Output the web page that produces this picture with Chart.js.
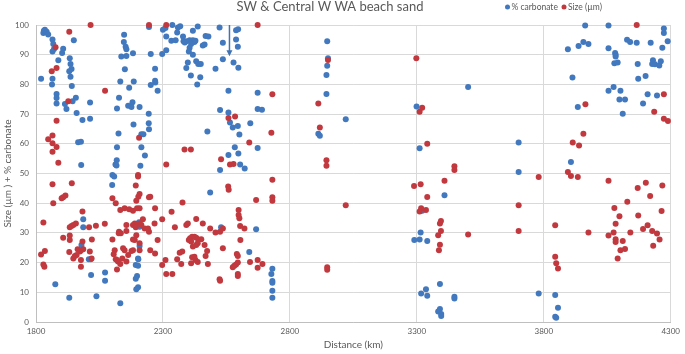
<!DOCTYPE html>
<html><head><meta charset="utf-8">
<script src="https://cdn.jsdelivr.net/npm/chart.js@4"></script>
<style>html,body{margin:0;padding:0;background:#fff}#wrap{width:685px;height:354px}</style>
</head><body><div id="wrap"><canvas id="c" width="685" height="354"></canvas></div>
<script>
const chartTitle = 'SW & Central W WA beach sand';
const seriesNames = ['% carbonate', 'Size (µm)'];
const xAxisTitle = 'Distance (km)';
const yAxisTitle = 'Size (µm ) + % carbonate';
const xTicks = [1800, 2300, 2800, 3300, 3800, 4300];
const yTicks = [0, 10, 20, 30, 40, 50, 60, 70, 80, 90, 100];
// arrow marker (distance, from value, to value)
const arrowMark = [2562, 100, 89.5];

const carbonatePoints = [
[1831,98.1],[1835,98.4],[1829,97.3],[1842,97.7],[1848,96.8],[1865,95.1],[1868,93.6],[1871,91.9],[1865,91.1],[1907,92.0],[1903,90.6],[1949,94.9],[1888,88.1],[1933,88.8],[1936,86.9],[1940,85.2],[1931,84.4],[1936,82.6],[1820,81.9],[1865,81.9],[1863,80.0],[1941,79.5],[1881,76.8],[1881,75.4],[1881,73.6],[1914,73.4],[1920,71.7],[1957,75.5],[1944,74.3],[1960,70.4],[2013,73.9],[1983,68.0],[2013,68.4],[1966,60.5],[1977,60.7],[1978,52.9],
[2147,96.7],[2146,94.3],[2153,92.7],[2156,91.8],[2136,89.4],[2156,89.6],[2182,90.5],[2150,85.1],[2132,81.0],[2185,81.0],[2167,78.9],[2127,75.5],[2180,74.0],[2163,72.8],[2176,72.4],[2208,72.4],[2119,71.9],[2244,70.1],[2184,66.5],[2244,66.9],[2245,64.9],[2125,63.5],[2215,63.2],[2223,63.2],[2215,58.8],[2119,58.8],[2229,56.1],[2118,54.5],[2113,53.0],[2117,52.7],[2211,52.6],
[2245,99.3],[2252,90.2],[2269,85.3],[2269,81.2],[2270,80.6],[2252,79.8],[2279,77.9],[2297,90.2],[2313,91.5],[2300,98.4],[2310,99.0],[2337,100],[2359,99.2],[2368,99.6],[2356,97.5],[2313,96.1],[2333,94.7],[2350,94.9],[2379,96.1],[2381,94.5],[2392,94.5],[2386,94.1],[2405,94.9],[2418,98.1],[2437,99.5],[2418,94.9],[2424,94.3],[2411,93.6],[2405,92.3],[2402,91.1],[2418,90.0],[2428,94.7],[2457,93.1],[2464,93.4],[2468,96.3],[2479,96.1],[2431,87.8],[2439,86.9],[2449,86.9],[2398,87.4],[2392,85.5],[2410,83.0],[2447,82.4],[2435,80.0],[2507,85.3],[2523,99.2],[2536,94.0],[2536,88.5],[2578,87.4],[2597,85.6],[2588,98.2],[2596,98.6],[2588,95.1],[2595,92.7],
[2558,77.9],[2525,71.4],[2558,70.5],[2564,67.2],[2575,65.5],[2595,66.0],[2601,63.1],[2644,66.9],[2673,77.2],[2673,58.6],[2475,64.1],[2583,58.8],[2597,56.7],[2558,56.2],[2604,53.0],[2622,51.7],[2525,51.2],
[2101,49.5],[2108,49.0],[2100,46.1],[1986,34.6],[1986,31.9],[1979,25.9],[2016,21.1],[2008,21.1],[1876,12.7],[1931,8.2],[2017,15.8],[2072,16.7],[2072,13.9],[2038,8.7],[2132,6.3],[2206,33.6],[2208,32.1],[2208,25.6],[2202,21.4],[2203,21.1],[2193,19.2],[2202,18.9],[2198,15.5],[2193,14.6],[2202,11.7],[2195,11.0],[2486,43.6],[2529,31.9],[2640,23.6],[2667,31.2],
[2947,94.5],[2950,88.8],[2947,86.3],[2944,83.2],[2944,76.8],[2673,71.7],[2690,71.5],[3020,68.3],[2912,63.4],[2918,62.7],[3299,72.6],[3502,79.1],[3311,58.5],
[2731,17.9],[2727,16.2],[2731,13.8],[2731,13.2],[2731,10.5],[2731,8.2],[3409,42.7],[3321,37.5],[3315,30.1],[3290,27.6],[3311,27.8],[3341,27.3],[3391,12.8],[3336,11.0],[3317,9.6],[3341,8.8],[3448,8.5],[3448,7.9],[3391,4.4],[3384,3.5],[3396,2.7],[3396,2.0],
[3963,99.8],[4055,99.8],[4273,98.8],[4273,97.3],[4288,94.5],[4267,92.3],[3895,91.8],[3937,92.9],[3956,94.3],[3976,93.6],[4055,92.2],[4128,95.0],[4140,94.3],[4166,94.0],[4221,94.0],[4081,90.6],[4083,90.0],[4083,89.4],[4078,87.1],[4091,87.4],[4170,86.9],[4230,88.1],[4227,86.9],[4238,86.8],[4255,86.4],[4261,87.8],[3913,82.3],[4172,81.9],[4201,82.8],[4055,77.9],[4075,79.1],[4102,77.9],[4098,74.9],[4120,74.9],[4191,73.6],[4209,76.7],[4246,76.3],[3934,72.4],[4111,70.1],[3701,60.4],[3907,53.9],[3701,50.5],
[3780,9.6],[3845,9.1],[3856,4.8],[3845,1.8],[3849,1.4]
];

const sizePoints = [
[2015,100],[2245,100],[2313,100],[1931,97.7],[1877,92.5],[1862,84.4],[1881,85.5],[2072,77.9],[1927,74.3],[1881,67.8],[1848,61.5],[1865,62.8],[1865,60.2],[1881,58.9],[1865,57.3],[1888,53.6],[2206,62.0],[2385,58.1],[2410,58.1],[2313,53.0],[2529,54.8],[2564,53.0],[2578,53.2],[2584,69.2],[2558,68.7],[2640,60.4],[2673,100],
[2202,49.5],[2202,49.0],[2193,46.0],[2208,43.1],[2203,42.2],[2195,40.8],[2245,42.0],[2250,42.2],[1865,46.4],[1941,46.7],[1868,40.0],[1901,41.7],[1907,42.0],[1916,42.6],
[1829,33.5],[1983,37.2],[1940,32.3],[1933,31.9],[1947,32.7],[1957,33.2],[2009,31.9],[2036,32.4],[2071,33.1],
[1907,28.4],[1933,29.1],[1933,27.6],[1983,27.1],[2020,27.8],[1964,24.5],[1973,23.7],[1977,24.2],[1986,24.5],[1931,23.6],[1953,22.2],[1947,21.4],[1960,22.6],[1977,20.9],[2012,23.7],[2019,21.4],[1977,18.6],
[1835,23.9],[1820,22.7],[1829,19.4],[1833,18.6],
[2101,27.8],[2114,40.0],[2101,41.7],[2132,37.7],[2149,38.3],[2167,38.0],[2182,37.5],[2198,38.3],[2208,38.3],[2221,34.6],[2228,31.5],[2241,31.5],[2267,33.2],[2269,38.3],[2297,34.6],[2334,37.1],[2377,40.2],
[2127,30.4],[2126,29.9],[2134,29.9],[2156,30.6],[2156,32.7],[2182,32.7],[2189,33.2],[2193,31.9],[2195,29.2],[2182,27.8],[2189,27.6],[2208,33.2],[2215,32.7],[2245,30.4],
[2110,24.2],[2106,22.8],[2143,24.8],[2149,24.2],[2176,23.9],[2182,24.2],[2208,24.2],[2208,26.5],[2250,24.2],[2269,23.1],[2279,27.6],
[2114,21.1],[2119,20.9],[2123,20.4],[2132,19.5],[2156,20.4],[2163,22.6],[2140,21.4],[2119,17.7],
[2297,19.2],[2310,20.9],[2313,16.2],[2337,16.2],
[2347,31.9],[2392,32.7],[2398,33.2],[2431,34.7],[2457,33.2],[2486,31.5],[2507,30.1],[2525,30.4],[2536,31.5],[2604,32.3],[2598,37.7],[2598,36.0],[2601,34.9],[2621,31.5],[2605,27.6],[2667,41.1],
[2407,28.2],[2415,28.7],[2424,28.7],[2431,28.4],[2440,27.8],[2451,27.9],[2437,26.5],[2431,25.9],[2411,27.1],[2402,27.6],[2418,25.4],[2464,25.9],[2474,23.9],[2536,24.8],
[2356,21.1],[2366,23.3],[2376,23.7],[2372,19.5],[2415,21.8],[2424,22.0],[2411,19.8],[2428,20.9],[2437,20.2],[2468,22.2],[2477,19.5],[2523,14.4],[2525,13.9],
[2557,45.6],[2559,44.5],[2575,18.4],[2581,18.9],[2588,19.4],[2595,20.0],[2595,22.2],[2591,22.9],[2595,16.2],[2595,15.5],[2643,20.2],[2673,20.9],[2673,18.3],
[2950,88.2],[3298,88.8],[2731,76.7],[2912,73.6],[3321,72.1],[3311,70.8],[2918,65.5],[2727,63.7],[3341,60.0],[2944,54.5],[2944,52.6],[3448,52.4],[3448,51.2],
[2731,47.9],[2731,42.0],[2731,40.8],[3020,39.3],[2692,19.5],[2947,18.4],[2947,17.6],[3289,45.8],[3315,46.4],[3409,47.6],[3341,42.1],[3317,38.3],[3311,37.2],[3336,37.7],[3395,34.0],[3391,33.2],[3395,30.6],[3384,29.2],[3391,26.0],[3387,24.2],[3502,29.5],
[4166,100],[4273,76.7],[3964,73.3],[4235,70.8],[4273,68.4],[4289,67.7],[3956,63.4],[3914,60.4],[3939,59.4],[3895,50.5],
[3780,48.8],[3907,49.2],[3934,48.8],[3701,39.3],[3701,30.6],[3845,32.6],[3845,22.0],[3849,19.8],[3856,18.0],[3976,30.1],[4055,47.6],[4170,45.1],[4202,46.9],[4219,42.4],[4267,46.0],[4129,40.5],[4078,38.4],[4098,35.6],[4172,35.9],[4264,37.4],[4083,33.1],[4209,32.6],[4191,31.3],[4227,30.6],[4246,29.8],[4256,27.8],[4231,25.7],[4055,29.1],[4075,30.1],[4083,27.9],[4083,26.9],[4111,27.3],[4141,30.1],[4102,24.2],[4120,24.6],[4091,21.4]
];

const BLUE = '#4178BE', RED = '#C1393E', TXT = '#595959', FONT = 'Lato';

const decor = {
  id: 'decor',
  afterDatasetsDraw(chart) {
    const { ctx, scales: { x, y } } = chart;
    ctx.save();
    // arrow
    const ax = x.getPixelForValue(arrowMark[0]);
    const y1 = y.getPixelForValue(arrowMark[1]);
    const y2 = y.getPixelForValue(arrowMark[2]);
    ctx.strokeStyle = '#3F72B5'; ctx.fillStyle = '#3F72B5'; ctx.lineWidth = 1.5;
    ctx.beginPath(); ctx.moveTo(ax, y1); ctx.lineTo(ax, y2 - 5); ctx.stroke();
    ctx.beginPath(); ctx.moveTo(ax - 3, y2 - 6); ctx.lineTo(ax + 3, y2 - 6); ctx.lineTo(ax, y2); ctx.closePath(); ctx.fill();
    // title
    ctx.fillStyle = TXT; ctx.font = '13px ' + FONT; ctx.textAlign = 'center'; ctx.textBaseline = 'middle';
    ctx.fillText(chartTitle, 330, 7);
    // legend
    ctx.font = '8.5px ' + FONT; ctx.textAlign = 'left';
    const items = [[507.5, BLUE, seriesNames[0]], [564, RED, seriesNames[1]]];
    for (const [lx, col, label] of items) {
      ctx.fillStyle = col; ctx.beginPath(); ctx.arc(lx, 7, 2.5, 0, Math.PI * 2); ctx.fill();
      ctx.fillStyle = TXT; ctx.fillText(label, lx + 4, 7.5);
    }
    ctx.restore();
  }
};

const toXY = arr => arr.map(p => ({ x: p[0], y: p[1] }));

new Chart(document.getElementById('c'), {
  type: 'scatter',
  data: {
    datasets: [
      { label: seriesNames[0], data: toXY(carbonatePoints), backgroundColor: BLUE, borderColor: BLUE, pointRadius: 3, pointBorderWidth: 0, order: 1, clip: false },
      { label: seriesNames[1], data: toXY(sizePoints), backgroundColor: RED, borderColor: RED, pointRadius: 3, pointBorderWidth: 0, order: 0, clip: false }
    ]
  },
  options: {
    responsive: false, animation: false, devicePixelRatio: 1,
    layout: { padding: { top: 25, right: 12, left: 0, bottom: 0 } },
    plugins: { legend: { display: false }, title: { display: false }, tooltip: { enabled: false } },
    scales: {
      x: {
        type: 'linear', min: xTicks[0], max: xTicks[xTicks.length - 1],
        afterBuildTicks: s => { s.ticks = xTicks.map(v => ({ value: v })); },
        afterFit: s => { s.height = 32; },
        grid: { color: '#D9D9D9', drawTicks: false, lineWidth: 1 },
        border: { color: '#BFBFBF' },
        ticks: { padding: 5, color: TXT, font: { family: FONT, size: 8 }, maxRotation: 0, autoSkip: false, callback: v => String(v) },
        title: { display: true, text: xAxisTitle, color: TXT, font: { family: FONT, size: 10 }, padding: { top: 0, bottom: 3 } }
      },
      y: {
        type: 'linear', min: yTicks[0], max: yTicks[yTicks.length - 1],
        afterBuildTicks: s => { s.ticks = yTicks.map(v => ({ value: v })); },
        afterFit: s => { s.width = 36; },
        grid: { color: '#D9D9D9', drawTicks: false, lineWidth: 1 },
        border: { color: '#BFBFBF' },
        ticks: { padding: 7, color: TXT, font: { family: FONT, size: 8 }, autoSkip: false },
        title: { display: true, text: yAxisTitle, color: TXT, font: { family: FONT, size: 10 }, padding: { top: 2, bottom: 0 } }
      }
    }
  },
  plugins: [decor]
});
</script></body></html>
